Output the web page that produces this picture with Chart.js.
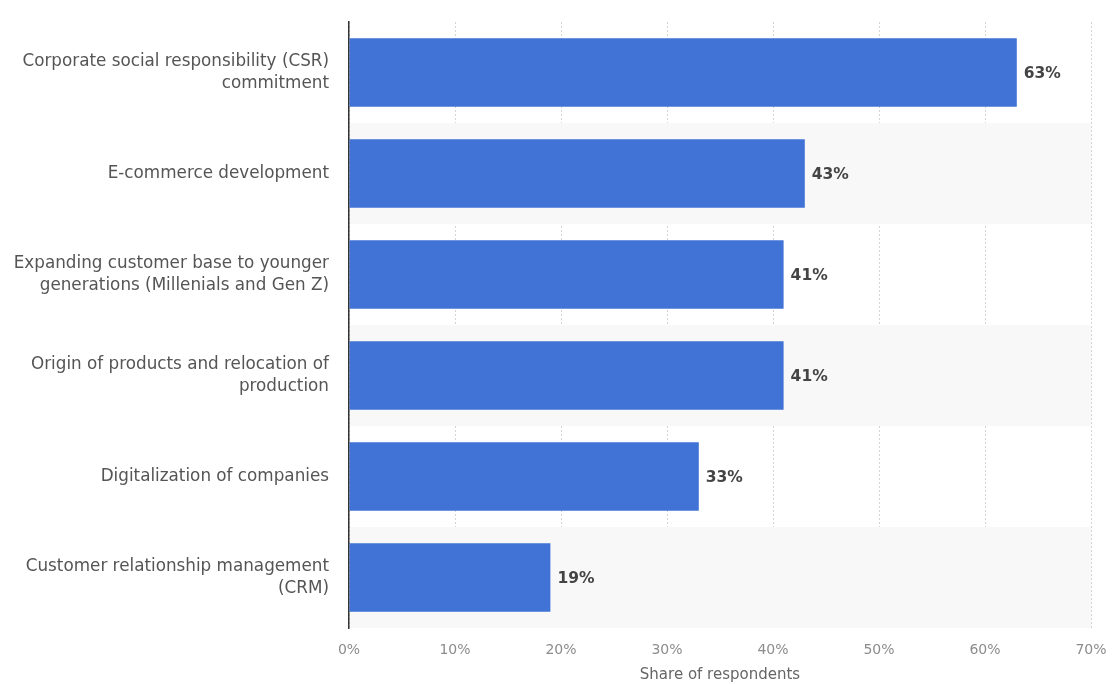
<!DOCTYPE html>
<html>
<head>
<meta charset="utf-8">
<script src="https://cdn.jsdelivr.net/npm/chart.js@4/dist/chart.umd.min.js"></script>
<style>
html,body{margin:0;padding:0;background:#fff;}
#wrap{width:1119px;height:684px;}
</style>
</head>
<body>
<div id="wrap"><canvas id="c" width="1119" height="684"></canvas></div>
<script>
const categories = [
  ["Corporate social responsibility (CSR)", "commitment"],
  "E-commerce development",
  ["Expanding customer base to younger", "generations (Millenials and Gen Z)"],
  ["Origin of products and relocation of", "production"],
  "Digitalization of companies",
  ["Customer relationship management", "(CRM)"]
];
const shares = [63, 43, 41, 41, 33, 19];
const tickValues = [0, 10, 20, 30, 40, 50, 60, 70];
const axisTitle = "Share of respondents";

const FONT = "'DejaVu Sans', 'Open Sans', sans-serif";

const stripes = {
  id: 'stripes',
  beforeDatasetsDraw(chart) {
    const {ctx, chartArea, scales} = chart;
    const y = scales.y;
    const n = categories.length;
    const band = (chartArea.bottom - chartArea.top) / n;
    ctx.save();
    ctx.fillStyle = '#f8f8f8';
    for (let i = 0; i < n; i++) {
      if (i % 2 === 1) {
        const c = y.getPixelForValue(i);
        ctx.fillRect(chartArea.left + 1, c - band / 2, chartArea.right - chartArea.left - 1, band);
      }
    }
    ctx.restore();
  }
};

const valueLabels = {
  id: 'valueLabels',
  afterDatasetsDraw(chart) {
    const {ctx} = chart;
    const meta = chart.getDatasetMeta(0);
    ctx.save();
    ctx.font = "bold 15.5px " + FONT;
    ctx.fillStyle = '#444';
    ctx.textBaseline = 'middle';
    ctx.textAlign = 'left';
    meta.data.forEach((bar, i) => {
      ctx.fillText(shares[i] + '%', bar.x + 7, bar.y + 1);
    });
    ctx.restore();
  }
};

new Chart(document.getElementById('c'), {
  type: 'bar',
  data: {
    labels: categories,
    datasets: [{
      data: shares,
      backgroundColor: '#4173d6',
      categoryPercentage: 0.68,
      barPercentage: 1.0,
      borderWidth: 0
    }]
  },
  options: {
    indexAxis: 'y',
    responsive: false,
    animation: false,
    layout: { padding: { top: 22, right: 28, left: 0, bottom: 0 } },
    plugins: { legend: { display: false }, tooltip: { enabled: false } },
    scales: {
      x: {
        min: 0, max: 70,
        afterBuildTicks(scale) { scale.ticks = tickValues.map(v => ({value: v})); },
        afterFit(scale) { scale.height = 56; scale.paddingLeft = 0; scale.paddingRight = 0; },
        grid: { color: '#d4d4d4', lineWidth: 1, drawTicks: false },
        border: { display: false, dash: [2, 2] },
        ticks: {
          padding: 14,
          color: '#8c8c8c',
          font: { family: FONT, size: 14 },
          callback: v => v + '%'
        },
        title: {
          display: true,
          text: axisTitle,
          color: '#666',
          font: { family: FONT, size: 15 },
          padding: { top: 2, bottom: 0 }
        }
      },
      y: {
        afterFit(scale) { scale.width = 349; scale.paddingTop = 0; scale.paddingBottom = 0; },
        grid: { display: false, drawTicks: false },
        border: { display: true, color: '#333', width: 1.5 },
        ticks: {
          padding: 20,
          color: '#555',
          font: { family: FONT, size: 16.8, lineHeight: 1.3 }
        }
      }
    }
  },
  plugins: [stripes, valueLabels]
});
</script>
</body>
</html>
